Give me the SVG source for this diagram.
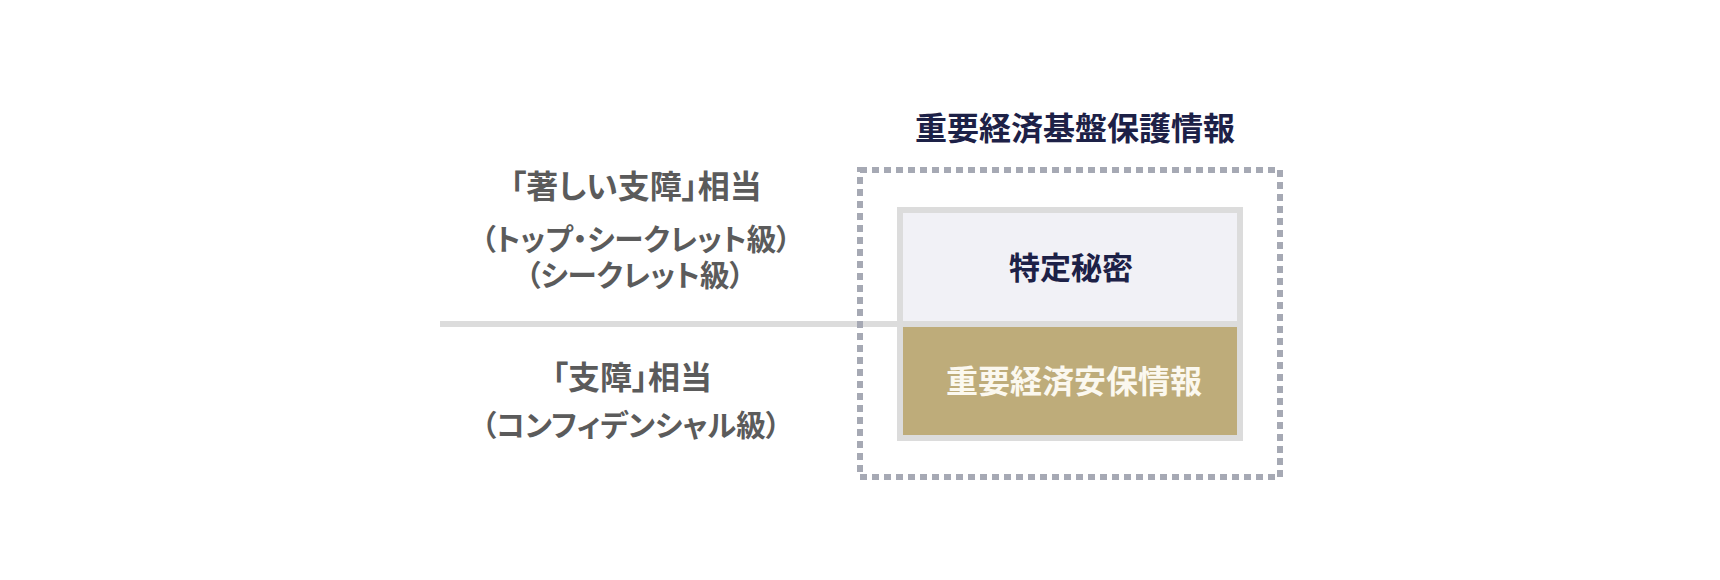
<svg xmlns="http://www.w3.org/2000/svg" width="1720" height="580" viewBox="0 0 1720 580">
  <style>
    text { font-family: "Noto Sans CJK JP", "Noto Sans", sans-serif; font-weight: 700; text-anchor: middle; }
    .lbl1 { font-size: 32px; fill: #5b5b5b; font-feature-settings: "palt"; }
    .lbl2 { font-size: 29.5px; fill: #5b5b5b; font-feature-settings: "palt"; }
    .title { font-size: 32px; fill: #1d2147; }
    .navy { font-size: 31px; fill: #1d2147; }
    .light { font-size: 32px; fill: #fbf8ef; }
    .dash { fill: none; stroke: #a6a9b4; stroke-width: 6; stroke-dasharray: 7 5; }
    .frame { fill: none; stroke: #dcdcdc; stroke-width: 6; }
  </style>
  <rect width="1720" height="580" fill="#ffffff"/>
  <g id="connectors">
    <line x1="440" y1="324" x2="900" y2="324" stroke="#dcdcdc" stroke-width="6"/>
  </g>
  <g id="title">
    <text class="title" x="1075" y="140">重要経済基盤保護情報</text>
  </g>
  <g id="outer-box">
    <rect class="dash" x="860" y="170" width="420" height="307"/>
  </g>
  <g id="inner-box">
    <rect x="900" y="210" width="340" height="114" fill="#f1f1f6"/>
    <rect x="900" y="324" width="340" height="114" fill="#beac7a"/>
    <line x1="900" y1="324" x2="1240" y2="324" stroke="#dcdcdc" stroke-width="6"/>
    <rect class="frame" x="900" y="210" width="340" height="228"/>
  </g>
  <g id="tokutei">
    <text class="navy" x="1071" y="279">特定秘密</text>
  </g>
  <g id="anpo">
    <text class="light" x="1074" y="393">重要経済安保情報</text>
  </g>
  <g id="label-top">
    <text class="lbl1" x="636" y="198">「著しい支障」相当</text>
    <text class="lbl2" x="636" y="250">（トップ・シークレット級）</text>
    <text class="lbl2" x="635" y="286">（シークレット級）</text>
  </g>
  <g id="label-bottom">
    <text class="lbl1" x="632" y="389">「支障」相当</text>
    <text class="lbl2" x="631" y="436">（コンフィデンシャル級）</text>
  </g>
</svg>
